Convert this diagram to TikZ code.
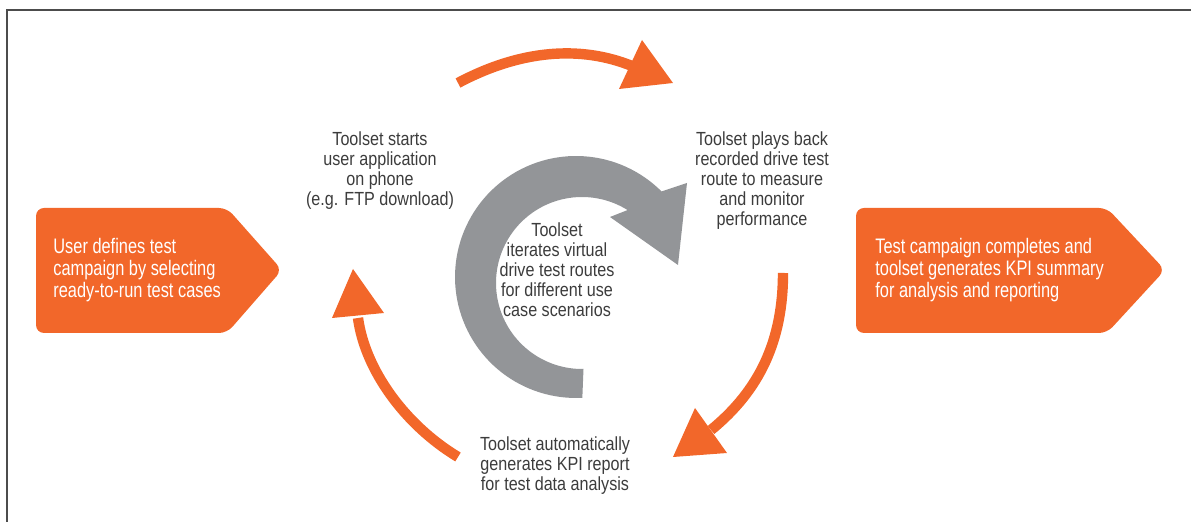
\documentclass[tikz,border=0pt]{standalone}
\usepackage{fontspec}
\setmainfont{Liberation Sans}[FakeStretch=0.78]
\newfontfamily\gfont{Liberation Sans}[FakeStretch=0.85]
\definecolor{kor}{RGB}{242,103,42}
\definecolor{kgray}{RGB}{147,149,152}
\definecolor{ktext}{RGB}{60,60,60}
\begin{document}
\begin{tikzpicture}[x=0.5pt,y=-0.5pt,
  gtext/.style={text=ktext, font=\gfont\fontsize{9.5}{10}\selectfont, align=center, inner sep=0},
  wtext/.style={text=white, font=\fontsize{10.5}{11}\selectfont, align=left, inner sep=0, anchor=west},
  obox/.style={fill=kor, rounded corners=4pt},
  oarrow/.style={draw=kor, line width=5.2pt},
  ohead/.style={fill=kor}]
\useasboundingbox (0,0) rectangle (1191,522);
\draw[line width=0.8pt, draw=black!70] (7,522) -- (7,10) -- (1191,10);

% side boxes
\path[obox] (36,208) -- (227,208) -- (282,270) -- (227,333) -- (36,333) -- cycle;
\node[wtext] (start) at (53,270) {User defines test\\campaign by selecting\\ready-to-run test cases};
\path[obox] (856,208) -- (1107,208) -- (1165,270) -- (1107,333) -- (856,333) -- cycle;
\node[wtext] (finish) at (875,270) {Test campaign completes and\\toolset generates KPI summary\\for analysis and reporting};

% grey circular arrow
\fill[kgray] plot[domain=87:315,samples=90] ({576+121*cos(\x)},{277+121*sin(\x)})
  -- (687,183) -- (678,265) -- (610,217)
  -- plot[domain=302:89,samples=90] ({582+86*cos(\x)},{283+86*sin(\x)}) -- cycle;

% orange cycle arrows
\coordinate (t1) at (458,83); \coordinate (t2) at (632,66);
\draw[oarrow] (t1) .. controls (520,50) and (580,45) .. (t2);
\path[ohead] (642,40) -- (673,83) -- (619,89) -- cycle;

\coordinate (r1) at (783,273); \coordinate (r2) at (711,430);
\draw[oarrow] (r1) .. controls (783,340) and (760,390) .. (r2);
\path[ohead] (695,408) -- (727,453) -- (673,457) -- cycle;

\coordinate (l1) at (458,457); \coordinate (l2) at (358,318);
\draw[oarrow] (l1) .. controls (405,425) and (365,370) .. (l2);
\path[ohead] (353,269) -- (384,313) -- (332,318) -- cycle;

% texts
\node[gtext] (app) at (380,171) {Toolset starts\\user application\\on phone\\(e.g. FTP download)};
\node[gtext] (play) at (762,181) {Toolset plays back\\recorded drive test\\route to measure\\and monitor\\performance};
\node[gtext] (iter) at (557,270) {Toolset\\iterates virtual\\drive test routes\\for different use\\case scenarios};
\node[gtext] (kpi) at (555,466) {Toolset automatically\\generates KPI report\\for test data analysis};
\end{tikzpicture}
\end{document}
